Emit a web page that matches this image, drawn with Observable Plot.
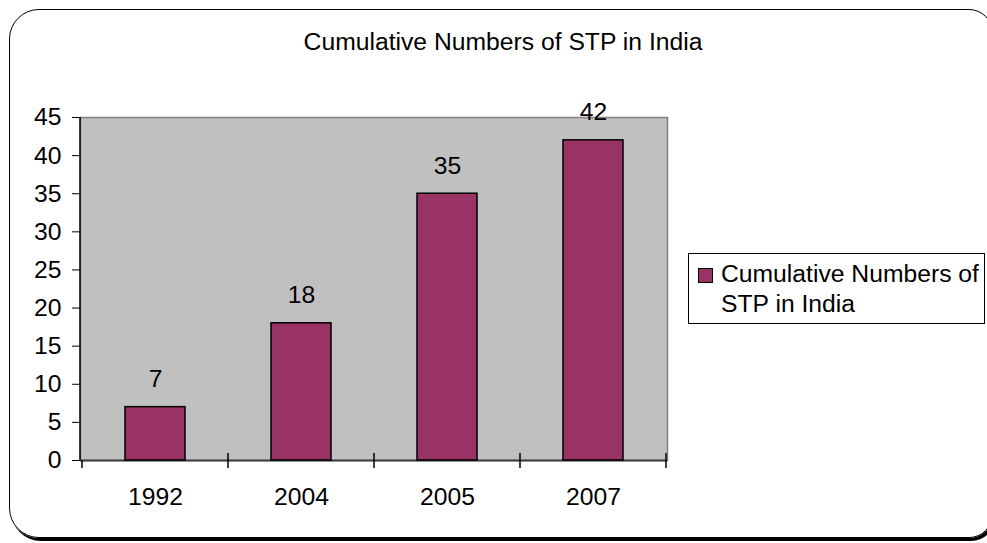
<!DOCTYPE html>
<html>
<head>
<meta charset="utf-8">
<script src="https://cdn.jsdelivr.net/npm/d3@7"></script>
<script src="https://cdn.jsdelivr.net/npm/@observablehq/plot@0.6"></script>
<style>
  html, body { margin: 0; padding: 0; background: #fff; }
  #chart {
    position: relative; width: 987px; height: 543px; overflow: hidden;
    font-family: "Liberation Sans", Arial, sans-serif; color: #000;
  }
  #chart svg { position: absolute; left: 0; top: 0; }
  #border {
    position: absolute; left: 9px; top: 9px; width: 984px; height: 529px;
    box-sizing: border-box; border: 1.5px solid #000;
    border-radius: 30px 24px 24px 30px; box-shadow: 2px 3px 0 #000;
  }
  #title {
    position: absolute; left: 0; top: 30px; width: 1006px; text-align: center;
    font-size: 24.7px; line-height: 24px; white-space: nowrap;
  }
  #legend {
    position: absolute; left: 688px; top: 253px; width: 297px; height: 71px;
    box-sizing: border-box; border: 1px solid #000; background: #fff;
  }
  #legend .swatch {
    position: absolute; left: 9px; top: 14px; width: 15px; height: 15px;
    box-sizing: border-box; border: 1px solid #000; background: #993366;
  }
  #legend .label {
    position: absolute; left: 32px; top: 5px; font-size: 24.7px; line-height: 30px;
    white-space: nowrap;
  }
</style>
</head>
<body>
<div id="chart">
  <div id="border"></div>
  <div id="title"></div>
  <div id="legend"><div class="swatch"></div><div class="label"></div></div>
</div>
<script>
// Cumulative number of Software Technology Parks (STP) in India by year
const seriesName = "Cumulative Numbers of STP in India";
const years = ["1992", "2004", "2005", "2007"];
const stpCounts = [7, 18, 35, 42];
const yTicks = [0, 5, 10, 15, 20, 25, 30, 35, 40, 45];
const barColor = "#993366";

const rows = years.map((year, i) => ({year, count: stpCounts[i]}));

// Y axis line plus the category separator ticks under the x axis
function axisLines(index, scales, values, dims) {
  const ns = "http://www.w3.org/2000/svg";
  const g = document.createElementNS(ns, "g");
  const x = scales.x, y = scales.y;
  const bw = typeof x.bandwidth === "function" ? x.bandwidth() : x.bandwidth;
  const step = x(years[1]) - x(years[0]);
  const gap = (step - bw) / 2;
  const base = y(0);
  const line = (x1, y1, x2, y2, stroke, w) => {
    const l = document.createElementNS(ns, "line");
    l.setAttribute("x1", x1); l.setAttribute("y1", y1);
    l.setAttribute("x2", x2); l.setAttribute("y2", y2);
    l.setAttribute("stroke", stroke); l.setAttribute("stroke-width", w);
    g.appendChild(l);
  };
  const edges = years.map(d => x(d) - gap);
  edges.push(x(years[years.length - 1]) + bw + gap);
  edges.forEach((ex, i) => line(ex, i === 0 ? base : base - 7, ex, base + 8, "#000", 1.5));
  line(dims.marginLeft, dims.marginTop, dims.marginLeft, base, "#000", 1.5);
  return g;
}

const chart = Plot.plot({
  width: 987,
  height: 543,
  marginLeft: 80,
  marginRight: 320,
  marginTop: 117,
  marginBottom: 83,
  style: {
    fontFamily: '"Liberation Sans", Arial, sans-serif',
    fontSize: "24.7px",
    color: "#000",
    background: "transparent",
    overflow: "visible"
  },
  x: {domain: years, paddingInner: 0.59, paddingOuter: 0.295, label: null},
  y: {domain: [0, 45], label: null},
  marks: [
    Plot.frame({fill: "#c0c0c0", stroke: "#808080", strokeWidth: 1.5}),
    Plot.ruleY([0], {stroke: "#404040", strokeWidth: 2}),
    Plot.barY(rows, {x: "year", y: "count", fill: barColor, stroke: "#000", strokeWidth: 1.5}),
    Plot.text(rows, {x: "year", y: "count", text: d => String(d.count), dy: -20, lineAnchor: "bottom", fontSize: 24.7, fill: "#000"}),
    Plot.axisY({ticks: yTicks, tickSize: 8, tickPadding: 11, tickFormat: d => String(d), label: null, stroke: "#000"}),
    Plot.axisX({tickSize: 0, tickPadding: 27, label: null}),
    axisLines
  ]
});

const root = document.getElementById("chart");
root.insertBefore(chart, root.firstChild);
document.getElementById("title").textContent = seriesName;
document.querySelector("#legend .label").innerHTML = "Cumulative Numbers of<br>STP in India";
</script>
</body>
</html>
